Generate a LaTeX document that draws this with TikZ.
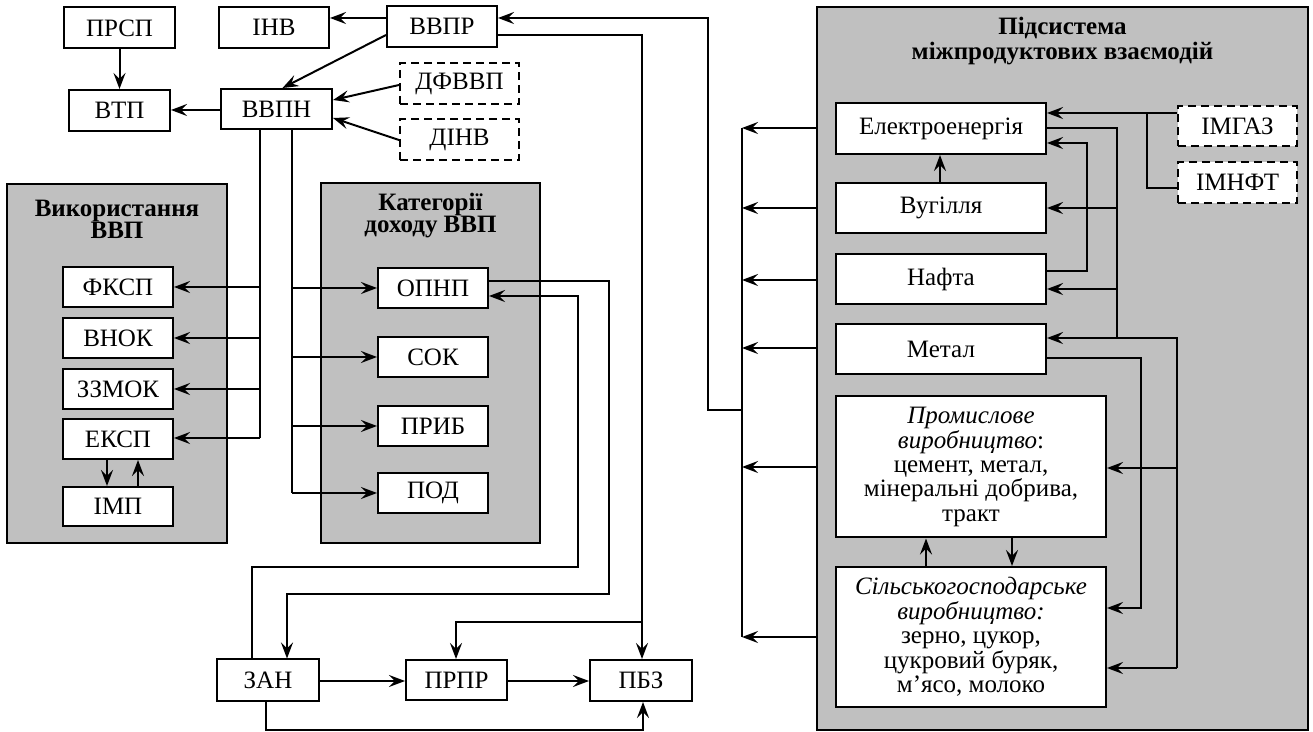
\documentclass[tikz,border=0pt]{standalone}
\usepackage{fontspec}
\setmainfont{Liberation Serif}
\usetikzlibrary{arrows.meta,calc}
\definecolor{panelgray}{HTML}{C0C0C0}
\tikzset{
  blk/.style={draw, fill=white, line width=1pt, inner sep=0pt, align=center,
    font=\fontsize{12.5}{12.2}\selectfont},
  dblk/.style={blk, dash pattern=on 4pt off 2.5pt},
  grp/.style={draw, fill=panelgray, line width=1pt, inner sep=0pt},
  ttl/.style={align=center, inner sep=0pt, font=\fontsize{12.5}{11}\selectfont\bfseries},
  conn/.style={line width=1pt},
  arr/.style={conn, -{Stealth[length=8pt,width=6pt,inset=3pt]}},
}
\begin{document}
\begin{tikzpicture}[x=0.5pt,y=-0.5pt]
\useasboundingbox (0,0) rectangle (1313,732);

% group panels
\node[grp, minimum width=110pt, minimum height=179.5pt] (pvvp) at (117,363.5) {};
\node[grp, minimum width=109.5pt, minimum height=180pt] (pkat) at (430.5,363) {};
\node[grp, minimum width=245.5pt, minimum height=361.5pt] (pmi) at (1062.5,368.5) {};
\node[ttl] (tvvp) at (117,219) {Використання\\ВВП};
\node[ttl] (tkat) at (430.5,216) {Категорії\\доходу ВВП};
\node[ttl, font=\fontsize{12.5}{12.5}\selectfont\bfseries] (tmi) at (1062.5,41) {Підсистема\\міжпродуктових взаємодій};

% top blocks
\node[blk, minimum width=55.5pt, minimum height=20.5pt] (prsp) at (119.5,28) {ПРСП};
\node[blk, minimum width=50.5pt, minimum height=20.5pt] (vtp) at (119.5,110.5) {ВТП};
\node[blk, minimum width=55pt, minimum height=20.5pt] (inv) at (274,27.5) {ІНВ};
\node[blk, minimum width=55pt, minimum height=20.5pt] (vvpr) at (442,26.5) {ВВПР};
\node[blk, minimum width=55.5pt, minimum height=20pt] (vvpn) at (276.5,109) {ВВПН};
\node[dblk, minimum width=59.5pt, minimum height=20.5pt] (dfvvp) at (459.5,83.5) {ДФВВП};
\node[dblk, minimum width=59.5pt, minimum height=20.5pt] (dinv) at (459.5,139.5) {ДІНВ};

% use of GDP
\node[blk, minimum width=55pt, minimum height=20pt] (fksp) at (118,287) {ФКСП};
\node[blk, minimum width=55pt, minimum height=20pt] (vnok) at (118,338) {ВНОК};
\node[blk, minimum width=55pt, minimum height=20pt] (zzmok) at (118,389) {ЗЗМОК};
\node[blk, minimum width=55pt, minimum height=20pt] (eksp) at (118,439) {ЕКСП};
\node[blk, minimum width=55pt, minimum height=19.5pt] (imp) at (118,506.5) {ІМП};

% income categories
\node[blk, minimum width=55pt, minimum height=20pt] (opnp) at (433,288.5) {ОПНП};
\node[blk, minimum width=55pt, minimum height=20pt] (sok) at (433,357.5) {СОК};
\node[blk, minimum width=55pt, minimum height=20pt] (prib) at (433,426) {ПРИБ};
\node[blk, minimum width=55pt, minimum height=20pt] (pod) at (433,493) {ПОД};

% bottom row
\node[blk, minimum width=51pt, minimum height=20.5pt] (zan) at (268,680) {ЗАН};
\node[blk, minimum width=50.5pt, minimum height=20pt] (prpr) at (456.5,680) {ПРПР};
\node[blk, minimum width=51pt, minimum height=20.5pt] (pbz) at (641,680.5) {ПБЗ};

% inter-product subsystem
\node[blk, minimum width=105pt, minimum height=25.5pt] (el) at (941,128.5) {Електроенергія};
\node[blk, minimum width=105pt, minimum height=25pt] (vug) at (941,208) {Вугілля};
\node[blk, minimum width=105pt, minimum height=25pt] (nafta) at (941,279) {Нафта};
\node[blk, minimum width=105pt, minimum height=25pt] (metal) at (941,349) {Метал};
\node[blk, minimum width=135pt, minimum height=70.5pt] (prom) at (971,467)
  {\textit{Промислове}\\\textit{виробництво}:\\цемент, метал,\\мінеральні добрива,\\тракт};
\node[blk, minimum width=135pt, minimum height=70pt] (silk) at (971,637)
  {\textit{Сільськогосподарське}\\\textit{виробництво:}\\зерно, цукор,\\цукровий буряк,\\м’ясо, молоко};
\node[dblk, minimum width=59.5pt, minimum height=20pt] (imgaz) at (1237.5,126) {ІМГАЗ};
\node[dblk, minimum width=59.5pt, minimum height=20.5pt] (imnft) at (1237.5,182.5) {ІМНФТ};

% bus lines
\coordinate (bl) at (260,0);
\coordinate (bm) at (292,0);
\coordinate (col) at (742,0);
\coordinate (ret) at (708,0);
\coordinate (b1) at (1117,0);
\coordinate (b2) at (1177,0);
\coordinate (b3) at (1141,0);
\coordinate (b4) at (1087,0);
\coordinate (b5) at (1147,0);

% top connectors
\draw[arr] (prsp) -- (vtp);
\draw[arr] (vvpn.west |- 0,110) -- (vtp.east |- 0,110);
\draw[arr] (vvpr.west |- 0,18) -- (inv.east |- 0,18);
\draw[arr] (vvpr.west |- 0,35) -- ([xshift=3pt]vvpn.north);
\draw[arr] (dfvvp.west |- 0,85) -- (vvpn.east |- 0,100);
\draw[arr] (dinv.west |- 0,140) -- (vvpn.east |- 0,118);

% distribution from ВВПН
\draw[conn] (vvpn.south -| bl) -- (bl |- 0,438);
\draw[arr] (bl |- 0,287) -- (fksp.east |- 0,287);
\draw[arr] (bl |- 0,338) -- (vnok.east |- 0,338);
\draw[arr] (bl |- 0,389) -- (zzmok.east |- 0,389);
\draw[arr] (bl |- 0,438) -- (eksp.east |- 0,438);
\draw[conn] (vvpn.south -| bm) -- (bm |- 0,493);
\draw[arr] (bm |- 0,288) -- (opnp.west |- 0,288);
\draw[arr] (bm |- 0,357) -- (sok.west |- 0,357);
\draw[arr] (bm |- 0,426) -- (prib.west |- 0,426);
\draw[arr] (bm |- 0,493) -- (pod.west |- 0,493);

% export / import
\draw[arr] (eksp.south -| 107,0) -- (imp.north -| 107,0);
\draw[arr] (imp.north -| 138,0) -- (eksp.south -| 138,0);

% ОПНП and ЗАН loop
\draw[arr] (opnp.east |- 0,281) -| (609,594) -| (zan.north -| 287,0);
\draw[arr] (zan.north -| 252,0) |- (578,567) |- (opnp.east |- 0,296);

% bottom row
\draw[arr] (zan.east |- 0,681) -- (prpr.west |- 0,681);
\draw[arr] (prpr.east |- 0,681) -- (pbz.west |- 0,681);
\draw[arr] (zan.south -| 266,0) |- (643,730) -- (pbz.south -| 643,0);

% ВВПР outputs
\draw[arr] (vvpr.east |- 0,35) -| (pbz.north -| 642,0);
\draw[arr] (642,622) -| (prpr.north -| 456,0);

% collector from the subsystem back to ВВПР
\draw[conn] (col |- 0,128) -- (col |- 0,637);
\foreach \y in {128,208,280,348,467,637} \draw[arr] (pmi.west |- 0,\y) -- (col |- 0,\y);
\draw[arr] (col |- 0,410) -| (ret |- 0,18) -- (vvpr.east |- 0,18);

% inside the subsystem
\draw[arr] (imgaz.west |- 0,113) -- (el.east |- 0,113);
\draw[conn] (imnft.west |- 0,188) -| (b5 |- 0,113);
\draw[arr] (vug.north -| 940,0) -- (el.south -| 940,0);
\draw[conn] (el.east |- 0,128) -| (b1 |- 0,338);
\draw[arr] (b1 |- 0,338) -- (metal.east |- 0,338);
\draw[arr] (b1 |- 0,208) -- (vug.east |- 0,208);
\draw[arr] (b1 |- 0,289) -- (nafta.east |- 0,289);
\draw[conn] (b1 |- 0,338) -| (b2 |- 0,668);
\draw[arr] (b2 |- 0,668) -- (silk.east |- 0,668);
\draw[arr] (b2 |- 0,468) -- (prom.east |- 0,468);
\draw[arr] (nafta.east |- 0,271) -| (b4 |- 0,143) -- (el.east |- 0,143);
\draw[arr] (metal.east |- 0,358) -| (b3 |- 0,608) -- (silk.east |- 0,608);
\draw[arr] (prom.south -| 1012,0) -- (silk.north -| 1012,0);
\draw[arr] (silk.north -| 926,0) -- (prom.south -| 926,0);
\end{tikzpicture}
\end{document}
